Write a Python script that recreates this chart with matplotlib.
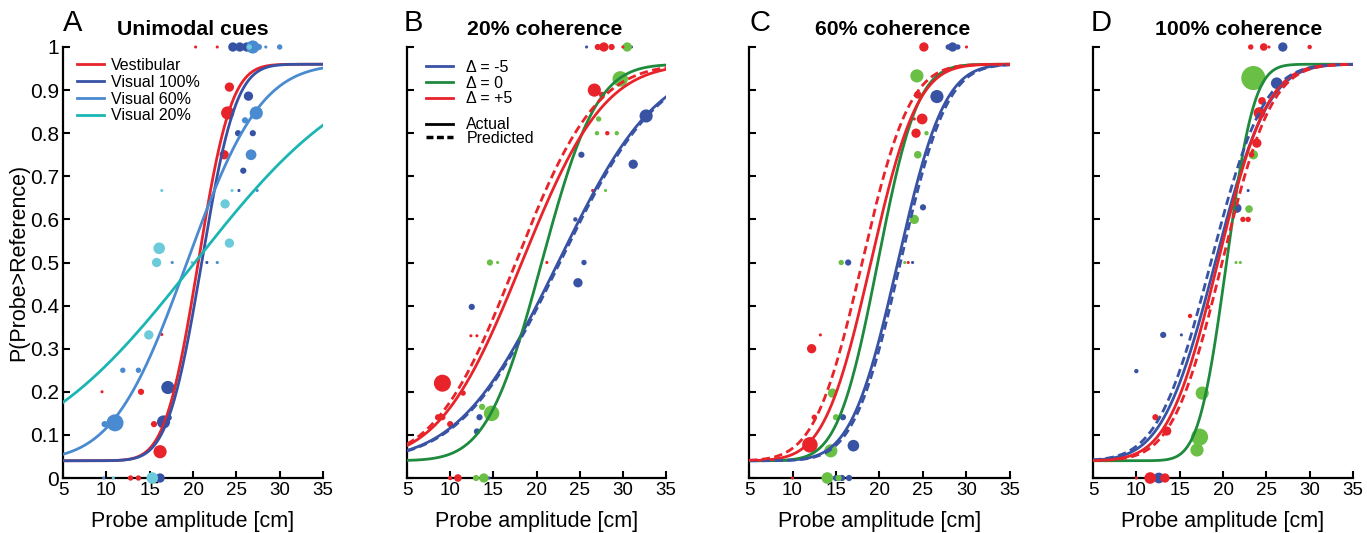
import math
import numpy as np
import matplotlib.pyplot as plt
from matplotlib.lines import Line2D

plt.rcParams['font.family'] = ['Liberation Sans', 'DejaVu Sans']

# ---- fitted psychometric curves (PSE, sigma) ----
a_labels = ["Vestibular", "Visual 100%", "Visual 60%", "Visual 20%"]
a_mu = [20.6, 21.0, 19.3, 20.2]
a_sigma = [3.0, 3.1, 6.7, 14.5]

delta_labels = ["\u0394 = -5", "\u0394 = 0", "\u0394 = +5"]
b_mu = [22.5, 20.6, 18.3]
b_sigma = [9.0, 5.0, 7.5]
b_pred_mu = [22.7, 17.6]          # predicted for delta -5, +5
b_pred_sigma = [9.0, 7.3]
c_mu = [22.1, 19.8, 19.0]
c_sigma = [4.2, 3.6, 4.2]
c_pred_mu = [22.4, 18.0]
c_pred_sigma = [4.2, 4.3]
d_mu = [19.1, 20.4, 19.4]
d_sigma = [4.8, 2.5, 4.5]
d_pred_mu = [18.6, 19.9]
d_pred_sigma = [4.8, 4.5]
lapse = 0.04

# ---- raw data points (probe amplitude, proportion, trial count) ----
a_vest_x = [20.3, 22.8, 24.2, 24.0, 23.6, 16.4, 14.0, 9.5, 15.5, 16.2, 12.8, 13.7]
a_vest_y = [1, 1, 0.907, 0.847, 0.75, 0.333, 0.2, 0.2, 0.125, 0.061, 0, 0]
a_vest_n = [1, 1, 9, 18, 9, 1, 4, 1, 4, 18, 3, 3]
a_v100_x = [24.6, 25.4, 26.2, 26.4, 25.2, 26.9, 25.8, 25.3, 21.6, 17.1, 16.6, 17.2, 16.2]
a_v100_y = [1, 1, 1, 0.886, 0.8, 0.8, 0.713, 0.667, 0.5, 0.21, 0.13, 0.14, 0]
a_v100_n = [9, 9, 9, 9, 4, 4, 4, 1, 1, 18, 18, 4, 9]
a_v60_x = [26.9, 27.6, 28.4, 30.0, 27.3, 26.0, 26.7, 27.4, 17.6, 22.8, 11.9, 13.7, 11.0, 9.8, 9.7]
a_v60_y = [1, 1, 1, 1, 0.847, 0.83, 0.75, 0.667, 0.5, 0.5, 0.25, 0.25, 0.128, 0.125, 0]
a_v60_n = [18, 4, 1, 3, 18, 4, 12, 1, 1, 1, 3, 3, 30, 4, 1]
a_v20_x = [26.5, 23.7, 24.2, 16.4, 24.5, 16.1, 15.8, 19.9, 14.9, 10.8, 15.3]
a_v20_y = [1, 0.636, 0.545, 0.667, 0.667, 0.533, 0.5, 0.5, 0.332, 0, 0]
a_v20_n = [3, 9, 9, 1, 1, 14, 9, 1, 9, 1, 14]

b_neg_x = [25.8, 31.0, 32.7, 25.2, 31.2, 24.5, 25.5, 24.8, 12.5, 13.4, 13.1, 14.5]
b_neg_y = [1, 1, 0.84, 0.75, 0.728, 0.6, 0.5, 0.453, 0.397, 0.141, 0.108, 0]
b_neg_n = [1, 1, 18, 4, 9, 2, 3, 9, 4, 4, 4, 1]
b_zero_x = [30.5, 29.7, 27.2, 27.0, 29.3, 28.0, 14.6, 15.5, 13.7, 14.8, 13.0, 13.9]
b_zero_y = [1, 0.926, 0.833, 0.8, 0.8, 0.667, 0.5, 0.5, 0.165, 0.15, 0, 0]
b_zero_n = [9, 25, 3, 2, 2, 1, 4, 1, 4, 25, 4, 9]
b_pos_x = [27.1, 27.8, 28.7, 30.0, 26.7, 27.6, 28.2, 26.5, 21.2, 12.4, 13.1, 9.1, 11.5, 8.6, 9.1, 10.0, 10.0, 10.9]
b_pos_y = [1, 1, 1, 1, 0.9, 0.889, 0.8, 0.667, 0.5, 0.33, 0.33, 0.22, 0.197, 0.141, 0.141, 0.125, 0, 0]
b_pos_n = [4, 9, 4, 1, 18, 4, 2, 1, 1, 1, 1, 30, 3, 4, 4, 4, 2, 6]

c_neg_x = [27.9, 28.4, 29.0, 26.6, 25.0, 16.4, 23.8, 15.8, 17.0, 15.0, 15.7, 16.5]
c_neg_y = [1, 1, 1, 0.885, 0.628, 0.5, 0.5, 0.141, 0.075, 0, 0, 0]
c_neg_n = [3, 9, 3, 18, 4, 4, 1, 4, 14, 4, 4, 4]
c_zero_x = [24.3, 25.4, 24.4, 24.0, 15.6, 22.9, 14.6, 15.0, 14.4, 14.0, 15.3]
c_zero_y = [0.933, 0.8, 0.75, 0.6, 0.5, 0.5, 0.197, 0.141, 0.063, 0, 0]
c_zero_n = [18, 2, 6, 9, 3, 1, 9, 4, 18, 14, 4]
c_pos_x = [25.1, 30.0, 24.4, 24.9, 24.0, 24.2, 23.3, 13.2, 12.2, 12.5, 12.0, 10.0]
c_pos_y = [1, 1, 0.889, 0.833, 0.833, 0.8, 0.5, 0.332, 0.3, 0.141, 0.077, 0]
c_pos_n = [9, 1, 6, 12, 1, 9, 1, 1, 9, 3, 25, 1]

d_neg_x = [26.9, 26.2, 22.9, 21.6, 13.1, 15.2, 10.0, 12.6]
d_neg_y = [1, 0.916, 0.667, 0.626, 0.332, 0.332, 0.248, 0]
d_neg_n = [9, 14, 1, 9, 4, 1, 2, 12]
d_zero_x = [23.5, 23.5, 23.0, 21.5, 22.0, 17.6, 17.3, 17.0]
d_zero_y = [0.928, 0.75, 0.624, 0.5, 0.5, 0.197, 0.095, 0.065]
d_zero_n = [60, 9, 6, 1, 1, 18, 30, 18]
d_pos_x = [23.2, 24.7, 25.3, 30.0, 24.5, 24.2, 23.9, 23.3, 22.3, 22.9, 16.2, 18.3, 12.2, 13.5, 10.0, 11.6, 13.3]
d_pos_y = [1, 1, 1, 1, 0.875, 0.847, 0.777, 0.75, 0.6, 0.6, 0.376, 0.397, 0.141, 0.109, 0, 0, 0]
d_pos_n = [3, 6, 1, 2, 6, 14, 9, 3, 3, 3, 2, 2, 4, 9, 1, 14, 9]

RED = '#e8232a'
BLUE = '#3953a4'
GREEN_LINE = '#1e8a3d'
GREEN_PT = '#6abf45'
A_COLORS = [RED, '#3652a5', '#4a8ad0', '#1bb6b4']
A_PT_COLORS = [RED, '#3652a5', '#4a8ad0', '#6ccbdb']
D_COLORS = [BLUE, GREEN_LINE, RED]
D_PT_COLORS = [BLUE, GREEN_PT, RED]
SIZE_SCALE = 5.0

xs = np.linspace(5, 35, 400)
erf = np.vectorize(math.erf)


def psy(mu, sigma):
    return lapse + (1 - 2 * lapse) * 0.5 * (1 + erf((xs - mu) / (sigma * math.sqrt(2))))


def style(ax, ylabels):
    ax.set_xlim(5, 35)
    ax.set_ylim(0, 1)
    for s in ['top', 'right']:
        ax.spines[s].set_visible(False)
    for s in ['left', 'bottom']:
        ax.spines[s].set_linewidth(1.6)
    ax.set_xticks(range(5, 36, 5))
    ax.set_yticks(np.round(np.arange(0, 1.01, 0.1), 1))
    ax.tick_params(direction='in', length=5, width=1.5, pad=3)
    ax.tick_params(axis='x', labelsize=13.5)
    ax.tick_params(axis='y', labelsize=15)
    if ylabels:
        ax.set_yticklabels(['0'] + ['%.1f' % v for v in np.arange(0.1, 0.95, 0.1)] + ['1'])
    else:
        ax.tick_params(labelleft=False)
    ax.set_xlabel('Probe amplitude [cm]', fontsize=15.5, labelpad=8.5)


def dots(ax, x, y, n, color):
    ax.scatter(x, y, s=np.array(n) * SIZE_SCALE, color=color, edgecolors='none',
               clip_on=False, zorder=3)


fig = plt.figure(figsize=(13.67, 5.33), dpi=100)
W, H = 1367.0, 533.0
lefts = [63, 407, 749, 1093]
widths = [260, 259, 261, 260]
axes = [fig.add_axes([l / W, 1 - 478 / H, w / W, 431 / H]) for l, w in zip(lefts, widths)]

# ---- panel A ----
ax = axes[0]
style(ax, True)
ax.set_ylabel('P(Probe>Reference)', fontsize=15.5, labelpad=0)
for (x, y, n), c in zip([(a_vest_x, a_vest_y, a_vest_n), (a_v100_x, a_v100_y, a_v100_n),
                         (a_v60_x, a_v60_y, a_v60_n), (a_v20_x, a_v20_y, a_v20_n)], A_PT_COLORS):
    dots(ax, x, y, n, c)
handles = []
for mu, sg, c, lab in zip(a_mu, a_sigma, A_COLORS, a_labels):
    h, = ax.plot(xs, psy(mu, sg), color=c, lw=2, label=lab, zorder=4)
    handles.append(h)
ax.legend(handles=handles, loc='upper left', bbox_to_anchor=(0.03, 0.99), frameon=False,
          fontsize=11.5, handlelength=1.7, handletextpad=0.4, labelspacing=0.12, borderaxespad=0)

# ---- panels B-D ----
panel_data = [
    ([(b_neg_x, b_neg_y, b_neg_n), (b_zero_x, b_zero_y, b_zero_n), (b_pos_x, b_pos_y, b_pos_n)],
     b_mu, b_sigma, b_pred_mu, b_pred_sigma),
    ([(c_neg_x, c_neg_y, c_neg_n), (c_zero_x, c_zero_y, c_zero_n), (c_pos_x, c_pos_y, c_pos_n)],
     c_mu, c_sigma, c_pred_mu, c_pred_sigma),
    ([(d_neg_x, d_neg_y, d_neg_n), (d_zero_x, d_zero_y, d_zero_n), (d_pos_x, d_pos_y, d_pos_n)],
     d_mu, d_sigma, d_pred_mu, d_pred_sigma),
]
for ax, (pts, mus, sgs, pmus, psgs) in zip(axes[1:], panel_data):
    style(ax, False)
    for (x, y, n), c in zip(pts, D_PT_COLORS):
        dots(ax, x, y, n, c)
    for mu, sg, c in zip(mus, sgs, D_COLORS):
        ax.plot(xs, psy(mu, sg), color=c, lw=2, zorder=4)
    for mu, sg, c in zip(pmus, psgs, [BLUE, RED]):
        ax.plot(xs, psy(mu, sg), color=c, lw=2, ls=(0, (3, 1.6)), zorder=4)

ax = axes[1]
leg1 = ax.legend(handles=[Line2D([], [], color=c, lw=2) for c in D_COLORS], labels=delta_labels,
                 loc='upper left', bbox_to_anchor=(0.05, 0.985), frameon=False, fontsize=11.5,
                 handlelength=1.7, handletextpad=0.8, labelspacing=0.05, borderaxespad=0)
ax.add_artist(leg1)
ax.legend(handles=[Line2D([], [], color='black', lw=2),
                   Line2D([], [], color='black', lw=2.5, ls=(0, (2, 1)))],
          labels=['Actual', 'Predicted'], loc='upper left', bbox_to_anchor=(0.05, 0.852),
          frameon=False, fontsize=11.5, handlelength=1.7, handletextpad=0.8,
          labelspacing=-0.1, borderaxespad=0)

titles = ['Unimodal cues', '20% coherence', '60% coherence', '100% coherence']
title_x = [0.5, 0.533, 0.552, 0.562]
letters = ['A', 'B', 'C', 'D']
letter_px = [73, 413, 760, 1101]
for ax, t, tx, letter, lx in zip(axes, titles, title_x, letters, letter_px):
    ax.text(tx, 1.028, t, transform=ax.transAxes, ha='center', va='baseline',
            fontsize=15.3, fontweight='bold')
    fig.text(lx / W, 1 - 23 / H, letter, ha='center', va='center', fontsize=21)

fig.savefig('out.png', dpi=100)
